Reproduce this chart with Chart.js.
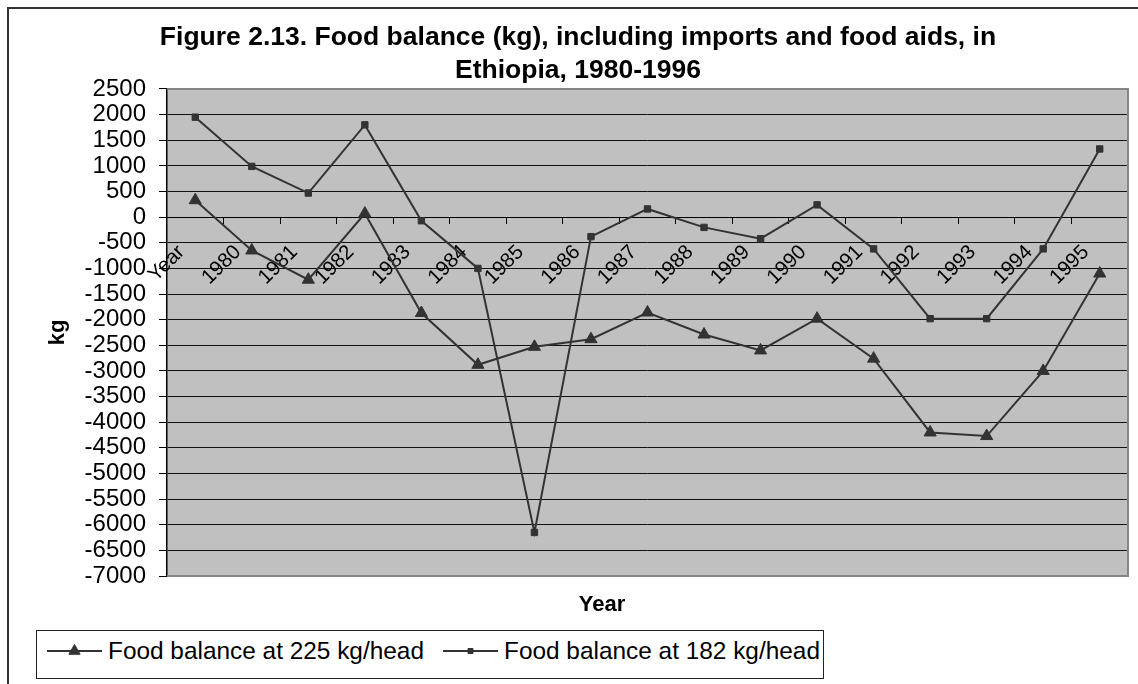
<!DOCTYPE html>
<html>
<head>
<meta charset="utf-8">
<title>Food balance, Ethiopia 1980-1996</title>
<script src="https://cdn.jsdelivr.net/npm/chart.js@4.4.1/dist/chart.umd.min.js"></script>
<style>
  html, body { margin: 0; padding: 0; background: #fff; overflow: hidden; }
  #frame { position: absolute; left: 7px; top: 7px; width: 1200px; height: 760px; border: 2px solid #333; }
  #chart { position: absolute; left: 0; top: 0; }
  #xTitle { position: absolute; left: 542px; width: 120px; top: 591px; text-align: center;
            font: bold 22px "Liberation Sans", Arial, sans-serif; color: #000; }
  #legend { position: absolute; left: 36px; top: 630px; width: 788px; height: 49px; box-sizing: border-box;
            border: 1.5px solid #222; background: #fff; display: flex; align-items: center;
            padding: 0 0 8px 10px; font: 24.4px "Liberation Sans", Arial, sans-serif; color: #000; }
  #legend .item { display: flex; align-items: center; margin-right: 19px; white-space: nowrap; }
  #legend canvas { margin-right: 6px; }
</style>
</head>
<body>
<div id="frame"></div>
<canvas id="chart" width="1138" height="684"></canvas>
<div id="xTitle">Year</div>
<div id="legend"></div>
<script>
// categories along the x axis and the two food balance series (kg)
const categories = ['Year', '1980', '1981', '1982', '1983', '1984', '1985', '1986', '1987',
                    '1988', '1989', '1990', '1991', '1992', '1993', '1994', '1995'];
const balance225 = [330, -650, -1220, 70, -1870, -2880, -2530, -2380, -1860,
                    -2290, -2600, -1980, -2760, -4200, -4270, -3000, -1100];
const balance182 = [1950, 990, 470, 1800, -70, -1000, -6150, -380, 160,
                    -200, -420, 240, -620, -1980, -1980, -620, 1330];
const seriesNames = ['Food balance at 225 kg/head', 'Food balance at 182 kg/head'];
const titleLines = ['Figure 2.13. Food balance (kg), including imports and food aids, in',
                    'Ethiopia, 1980-1996'];

const FONT = '"Liberation Sans", Arial, sans-serif';
const INK = '#333333';

// grey plot background plus the grey top/right/bottom edges
const plotFrame = {
  id: 'plotFrame',
  beforeDraw(chart) {
    const { ctx, chartArea: a } = chart;
    ctx.save();
    ctx.fillStyle = '#c0c0c0';
    ctx.fillRect(a.left, a.top, a.right - a.left, a.bottom - a.top);
    ctx.restore();
  },
  beforeDatasetsDraw(chart) {
    const { ctx, chartArea: a } = chart;
    ctx.save();
    ctx.strokeStyle = '#858585';
    ctx.lineWidth = 2;
    ctx.beginPath();
    ctx.moveTo(a.left, a.top);
    ctx.lineTo(a.right, a.top);
    ctx.lineTo(a.right, a.bottom);
    ctx.lineTo(a.left, a.bottom);
    ctx.stroke();
    ctx.restore();
  }
};

const chart = new Chart(document.getElementById('chart'), {
  type: 'line',
  data: {
    labels: categories,
    datasets: [
      {
        label: seriesNames[0],
        data: balance225,
        borderColor: INK,
        borderWidth: 2,
        pointStyle: 'triangle',
        pointRadius: 7,
        pointBackgroundColor: INK,
        pointBorderColor: INK,
        pointBorderWidth: 1,
        tension: 0
      },
      {
        label: seriesNames[1],
        data: balance182,
        borderColor: INK,
        borderWidth: 2,
        pointStyle: 'rect',
        pointRadius: 4.5,
        pointBackgroundColor: INK,
        pointBorderColor: INK,
        pointBorderWidth: 1,
        tension: 0
      }
    ]
  },
  options: {
    responsive: false,
    animation: false,
    layout: { padding: { left: 28, right: 10, top: 0, bottom: 108 } },
    plugins: {
      legend: { display: false },
      tooltip: { enabled: false },
      title: {
        display: true,
        text: titleLines,
        color: '#000',
        font: { family: FONT, size: 26.5, weight: 'bold', lineHeight: 1.245 },
        padding: { top: 21.5, bottom: 1.5 }
      }
    },
    scales: {
      x: {
        type: 'category',
        position: { y: 0 },
        offset: true,
        grid: { display: true, offset: true, drawOnChartArea: false, tickLength: 6, tickColor: '#000' },
        border: { display: true, color: '#000', width: 1 },
        ticks: {
          autoSkip: false,
          minRotation: 45,
          maxRotation: 45,
          color: '#000',
          padding: 17,
          labelOffset: -14,
          font: { family: FONT, size: 20.5 }
        },
        afterFit(scale) { scale.height = 0; }
      },
      y: {
        min: -7000,
        max: 2500,
        grid: {
          color: (c) => (c.tick && (c.tick.value === 2500 || c.tick.value === -7000)) ? 'rgba(0,0,0,0)' : '#111',
          tickColor: '#000',
          tickLength: 8,
          lineWidth: 1
        },
        border: { display: true, color: '#000', width: 1.5 },
        ticks: {
          stepSize: 500,
          autoSkip: false,
          color: '#000',
          padding: 13,
          font: { family: FONT, size: 24 },
          callback: (v) => String(v)
        },
        title: {
          display: true,
          text: 'kg',
          color: '#000',
          font: { family: FONT, size: 22, weight: 'bold' },
          padding: { top: 17, bottom: 0 }
        },
        afterFit(scale) { scale.width = 139; }
      }
    }
  },
  plugins: [plotFrame]
});

// legend box built from the datasets, sample = line with its marker
const legendEl = document.getElementById('legend');
chart.data.datasets.forEach((ds) => {
  const item = document.createElement('div');
  item.className = 'item';
  const sample = document.createElement('canvas');
  sample.width = 55;
  sample.height = 20;
  const sctx = sample.getContext('2d');
  sctx.strokeStyle = ds.borderColor;
  sctx.lineWidth = ds.borderWidth;
  sctx.beginPath();
  sctx.moveTo(0, 10);
  sctx.lineTo(55, 10);
  sctx.stroke();
  sctx.fillStyle = ds.pointBackgroundColor;
  sctx.strokeStyle = ds.pointBorderColor;
  sctx.lineWidth = ds.pointBorderWidth;
  Chart.helpers.drawPoint(sctx, {
    pointStyle: ds.pointStyle,
    radius: ds.pointStyle === 'triangle' ? 6.5 : 3.5,
    borderWidth: ds.pointBorderWidth,
    rotation: 0
  }, 27.5, 10);
  const text = document.createElement('span');
  text.textContent = ds.label;
  item.appendChild(sample);
  item.appendChild(text);
  legendEl.appendChild(item);
});
</script>
</body>
</html>
